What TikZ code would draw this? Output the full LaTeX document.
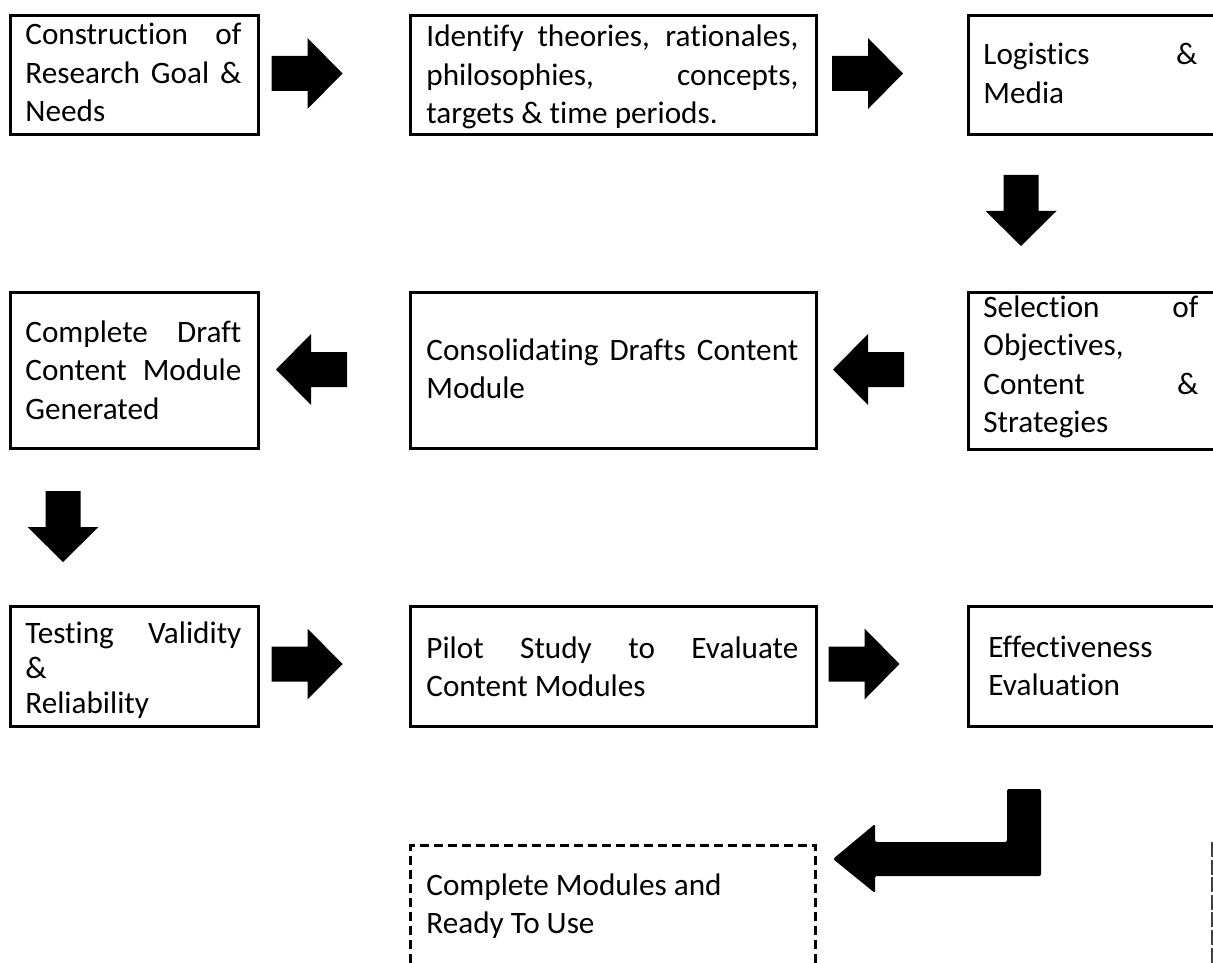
\documentclass[tikz,border=0pt]{standalone}
\usepackage{fontspec}
\setmainfont{Carlito}[Ligatures={NoCommon}]
\begin{document}
\begin{tikzpicture}[x=0.5pt,y=-0.5pt,
  box/.style={draw=black, line width=1.4pt, rectangle, inner sep=0pt, anchor=north west},
  dbox/.style={box, dash pattern=on 4.5pt off 2.5pt, line width=1.5pt},
  txt/.style={anchor=base west, inner sep=0pt, font=\fontsize{15.6pt}{19.25pt}\selectfont},
  blk/.pic={\fill[black] (-36,-17.5) -- (0,-17.5) -- (0,-35.5) -- (35,0) -- (0,35.5) -- (0,17.5) -- (-36,17.5) -- cycle;},
  rarr/.style={},
  larr/.style={rotate=180},
  darr/.style={rotate=-90}]
\useasboundingbox (0,0) rectangle (1213,962);
\clip (0,0) rectangle (1213,962);
\newcommand{\jpar}[2]{\parbox[t]{#1}{\hyphenpenalty=10000\exhyphenpenalty=10000\tolerance=10000\hbadness=10000 #2}}

% boxes
\node[box, minimum width=124pt, minimum height=59.5pt] (b1) at (9,14) {};
\node[box, minimum width=203pt, minimum height=59.5pt] (b2) at (409,14) {};
\node[box, minimum width=135pt, minimum height=59.5pt] (b3) at (967,14) {};
\node[box, minimum width=124pt, minimum height=78pt] (b4) at (9,291) {};
\node[box, minimum width=203pt, minimum height=78pt] (b5) at (409,291) {};
\node[box, minimum width=135pt, minimum height=78.5pt] (b6) at (967,291) {};
\node[box, minimum width=124pt, minimum height=60pt] (b7) at (9,605) {};
\node[box, minimum width=203pt, minimum height=60pt] (b8) at (409,605) {};
\node[box, minimum width=135pt, minimum height=60pt] (b9) at (967,605) {};
\node[dbox, minimum width=202.5pt, minimum height=80pt] (b10) at (409,844) {};

% texts
\node[txt] (t1) at (25,45) {\jpar{108pt}{Construction of\linebreak Research Goal \&\linebreak Needs}};
\node[txt] (t2) at (426,47) {\jpar{186pt}{Identify theories, rationales,\linebreak philosophies, concepts,\linebreak targets \& time periods.}};
\node[txt] (t3) at (983,65) {\jpar{107pt}{Logistics \&\linebreak Media}};
\node[txt] (t4) at (25,342) {\jpar{108pt}{Complete Draft\linebreak Content Module\linebreak Generated}};
\node[txt] (t5) at (426,360) {\jpar{186pt}{Consolidating Drafts Content\linebreak Module}};
\node[txt] (t6) at (983,317) {\jpar{107.5pt}{Selection of\linebreak Objectives,\\ Content \&\linebreak Strategies}};
\node[txt, font=\fontsize{15.6pt}{17.5pt}\selectfont] (t7) at (25,643) {\jpar{108pt}{Testing Validity\linebreak \&\\ Reliability}};
\node[txt] (t8) at (426,658) {\jpar{186pt}{Pilot Study to Evaluate\linebreak Content Modules}};
\node[txt] (t9) at (988,657) {\jpar{100pt}{Effectiveness\\ Evaluation}};
\node[txt] (t10) at (426,895) {\jpar{186pt}{Complete Modules and\\ Ready To Use}};

% block arrows
\pic[rarr] (a1) at (307.5,73.5) {blk};
\pic[rarr] (a2) at (868,73.5) {blk};
\pic[darr] (a3) at (1021,211) {blk};
\pic[larr] (a4) at (311,369.5) {blk};
\pic[larr] (a5) at (868,369.5) {blk};
\pic[darr] (a6) at (63,527) {blk};
\pic[rarr] (a7) at (307.5,664) {blk};
\pic[rarr] (a8) at (864.5,664) {blk};

% bent arrow
\fill[black, rounded corners=1pt] (1041,789) -- (1041,876) -- (875,876) -- (875,893) -- (833,859)
  -- (875,824) -- (875,842) -- (1007,842) -- (1007,789) -- cycle;

% dashed edge at right
\coordinate (e1) at (1212,842);
\coordinate (e2) at (1212,975);
\draw[black!75, line width=0.7pt, dash pattern=on 7.5pt off 1.3pt] (e1) -- (e2);
\end{tikzpicture}
\end{document}
